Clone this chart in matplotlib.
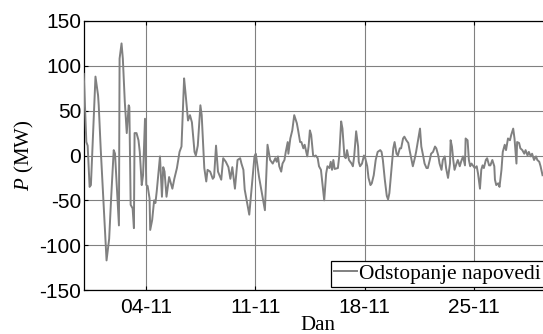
import numpy as np
import pandas as pd
import matplotlib
matplotlib.use('Agg')
import matplotlib.pyplot as plt
import matplotlib.dates as mdates

# sati od 31-10 00:00 i odstopanje napovedi (MW), ocitano sa slike
sati = [1, 5, 7, 10, 12, 19, 23, 24, 27, 36, 40, 43, 47, 49, 55, 56, 59, 61, 64, 67,
        70, 71, 73, 76, 78, 79, 82, 85, 87, 90, 92, 95, 97, 99, 102, 103, 106, 109, 111, 113,
        118, 121, 123, 125, 128, 132, 137, 140, 144, 148, 150, 151, 155, 157, 161, 164, 167, 171, 173, 176,
        180, 182, 186, 189, 191, 195, 199, 201, 204, 207, 212, 215, 219, 223, 226, 229, 233, 237, 241, 243,
        246, 248, 255, 263, 265, 270, 279, 283, 287, 291, 295, 297, 299, 301, 304, 306, 309, 311, 314, 315,
        318, 321, 324, 328, 330, 333, 335, 338, 340, 344, 346, 348, 350, 353, 355, 357, 360, 362, 365, 370,
        373, 375, 378, 380, 382, 384, 386, 391, 393, 396, 398, 401, 403, 405, 408, 412, 414, 416, 419, 422,
        423, 425, 428, 431, 433, 436, 438, 441, 443, 446, 449, 452, 456, 458, 460, 463, 466, 468, 470, 476,
        478, 481, 483, 486, 488, 491, 493, 496, 499, 501, 504, 506, 509, 511, 514, 517, 519, 522, 524, 527,
        529, 532, 534, 537, 540, 542, 545, 547, 550, 552, 555, 557, 560, 563, 564, 566, 568, 570, 573, 575,
        578, 580, 583, 586, 587, 590, 592, 594, 596, 598, 601, 604, 606, 609, 611, 613, 615, 618, 620, 623,
        625, 628, 631, 632, 634, 637, 639, 642, 644, 647, 649, 652, 655, 657, 660, 662, 665, 666, 669, 671,
        674, 677, 679, 682, 684, 687, 689, 692, 695, 697, 700, 702, 705]
odstopanje = [91, 15, 11, -35, -33, 88, 67, 56, 8, -117, -93, -48, 6, 2, -78, 108, 125, 108, 60, 25,
              56, 54, -55, -59, -81, 25, 25, 17, 4, -33, -22, 41, -33, -34, -48, -83, -72, -50, -53, -40,
              -1, -46, -13, -18, -46, -24, -37, -26, -14, 4, 8, 10, 86, 71, 39, 45, 37, 4, 0, 11,
              56, 45, -14, -29, -16, -18, -26, -24, 11, -18, -27, -3, -7, -13, -26, -13, -37, -5, -3, -9,
              -16, -38, -66, -1, 2, -24, -61, 12, -5, -9, -3, -7, -1, -12, -18, -9, -5, 4, 15, 2,
              19, 28, 45, 36, 28, 15, 15, 8, 12, -1, 10, 28, 23, 0, -1, 0, -3, -12, -16, -50,
              -20, -12, -14, -7, -16, -5, -15, -14, -1, 38, 30, -1, -3, 6, -5, -9, -12, -1, 27, 10,
              -7, -12, -9, 0, -3, -12, -25, -33, -31, -22, -5, 4, 6, 4, -5, -27, -45, -49, -42, 8,
              15, 2, 0, 8, 8, 19, 21, 17, 14, 6, -5, -12, -3, 4, 17, 30, 10, -1, -9, -14,
              -14, -5, 2, 4, 10, 8, 0, -9, -16, -5, -1, -14, -25, -9, 17, 10, -5, -16, -9, -5,
              -12, -7, -1, -11, 19, 17, -5, -12, -9, -11, -14, -12, -20, -37, -16, -11, -14, -5, -3, -11,
              -11, -5, -12, -27, -33, -31, -35, -16, 4, 12, 6, 19, 17, 23, 30, 19, -9, 15, 14, 8,
              6, 2, 6, 0, 4, -1, 2, -5, -1, -5, -7, -12, -22]

dani_ticks = ['2012-11-04', '2012-11-11', '2012-11-18', '2012-11-25']

plt.rcParams['mathtext.fontset'] = 'custom'
plt.rcParams['mathtext.it'] = 'Liberation Serif:italic'
plt.rcParams['mathtext.rm'] = 'Liberation Serif'
plt.rcParams['axes.unicode_minus'] = False

pocetak = pd.Timestamp('2012-10-31')
vrijeme = pocetak + pd.to_timedelta(sati, unit='h')

fig = plt.figure(figsize=(5.43, 3.34), dpi=100)
ax = fig.add_axes([84/543, 44/334, 468.3/543, 269/334])

ax.plot(vrijeme, odstopanje, color='#808080', lw=1.4, label='Odstopanje napovedi', zorder=3)

ax.set_xlim(pocetak + pd.Timedelta(hours=1.4), pocetak + pd.Timedelta(hours=720))
ax.set_ylim(-150, 150)
ax.set_yticks([-150, -100, -50, 0, 50, 100, 150])
ax.set_xticks(pd.to_datetime(dani_ticks))
ax.xaxis.set_major_formatter(mdates.DateFormatter('%d-%m'))

ax.grid(True, color='0.5', lw=0.8, ls='-')
ax.tick_params(direction='in', length=3, top=True, right=False, pad=2,
               labelsize=15, labelfontfamily='Liberation Sans')
ax.tick_params(axis='x', pad=5.5)
for s in ax.spines.values():
    s.set_linewidth(0.9)
    s.set_color('black')

ax.set_xlabel('Dan', fontsize=15, family='Liberation Serif', labelpad=-0.5)
ax.set_ylabel('$P$ (MW)', fontsize=15, family='Liberation Serif', labelpad=2)

leg = ax.legend(loc='lower right', bbox_to_anchor=(0.9823, 0.011), borderaxespad=0,
                prop={'family': 'Liberation Serif', 'size': 15.4}, fancybox=False,
                framealpha=1, edgecolor='black', borderpad=0.15, handlelength=1.08,
                handletextpad=0.1)
leg.get_frame().set_linewidth(0.9)

fig.savefig('out.png', dpi=100)
